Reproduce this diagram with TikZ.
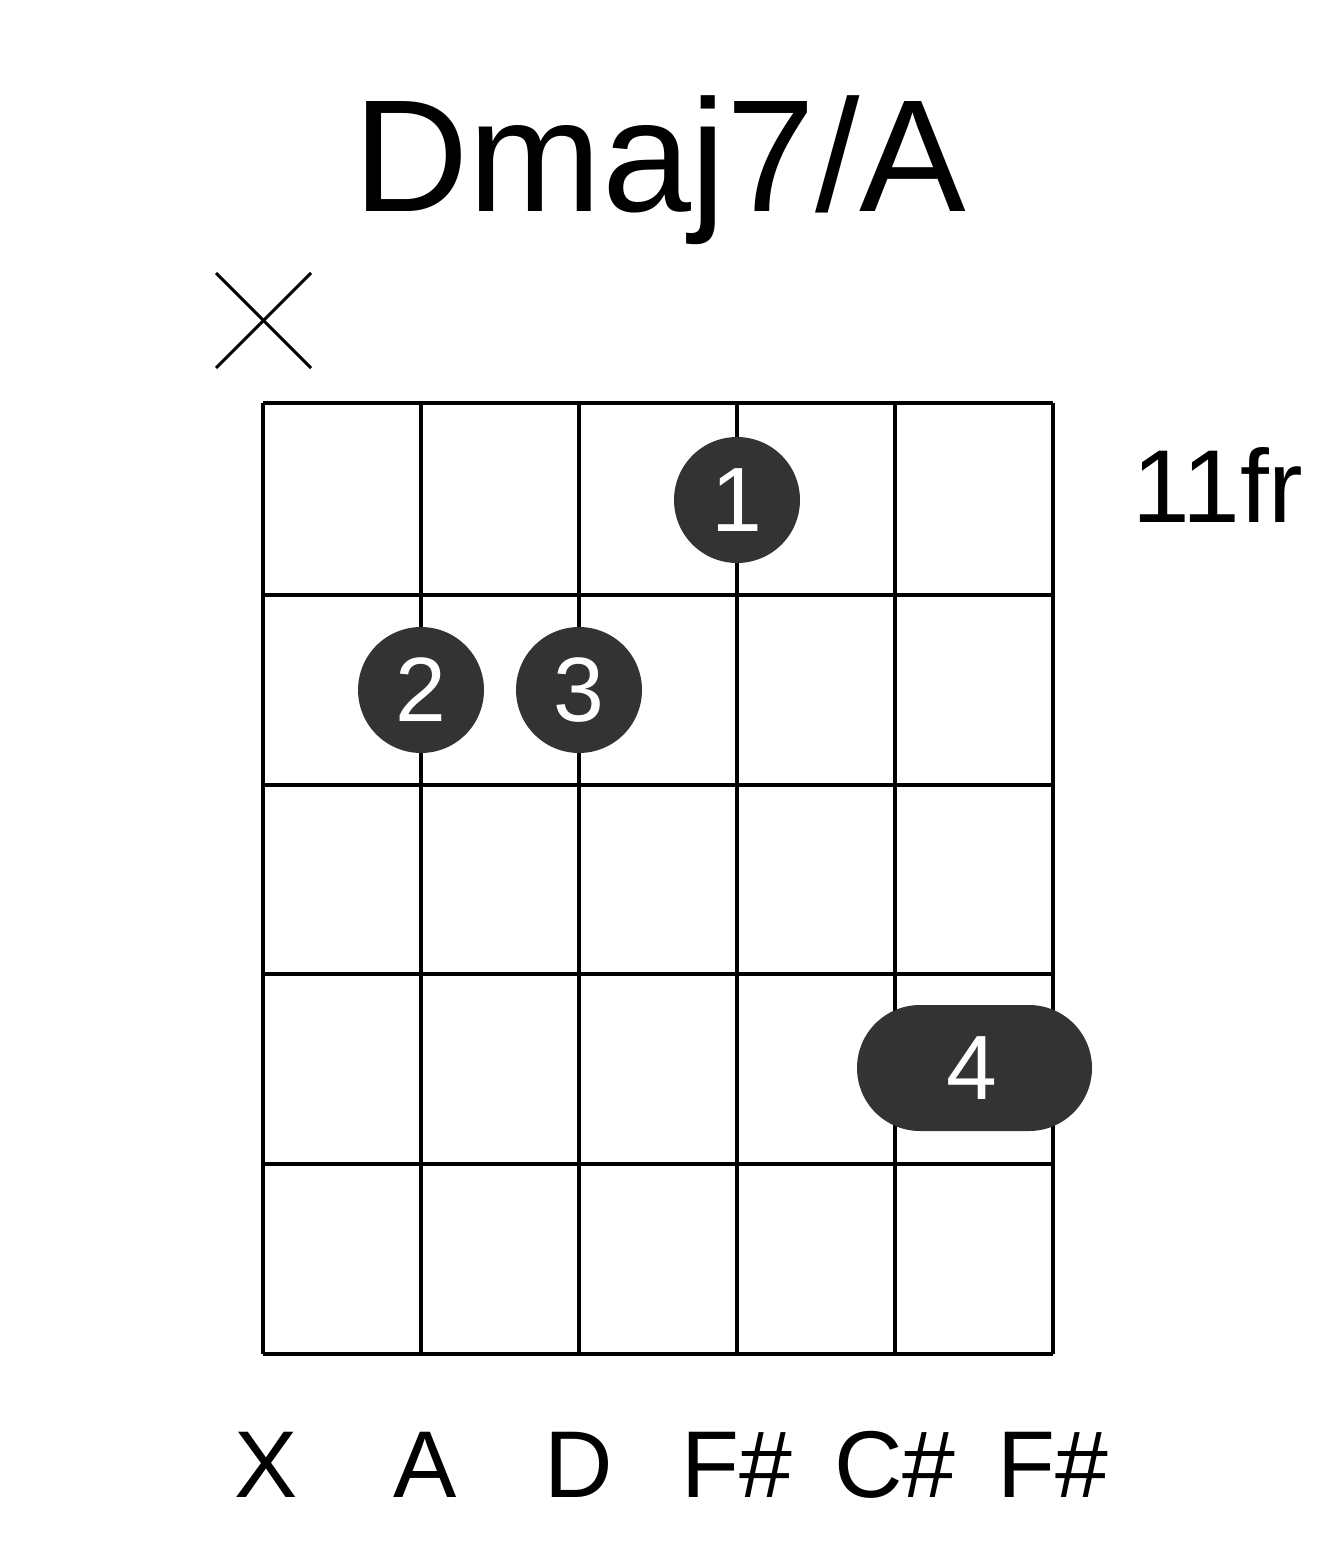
\documentclass[tikz,border=0pt]{standalone}
\usepackage{fontspec}
\setmainfont{Liberation Sans}
\begin{document}
\begin{tikzpicture}[x=0.02cm, y=-0.02cm,
  grid/.style={line width=0.08cm},
  dot/.style={circle,fill=black!80,minimum size=2.52cm,inner sep=0pt,text=white,font=\fontsize{52}{52}\selectfont},
  lbl/.style={anchor=base,font=\fontsize{54}{54}\selectfont}]
\useasboundingbox (0,0) rectangle (1317,1551);

\node[anchor=base,font=\fontsize{91}{91}\selectfont] (title) at (660,212) {Dmaj7/A};

\draw[line width=0.06cm] (216,273) -- (311,368);
\draw[line width=0.06cm] (216,368) -- (311,273);

\foreach \x in {263,421,579,737,895,1053} \draw[grid] (\x,403) -- (\x,1354);
\foreach \y in {403,595,785,974,1164,1354} \draw[grid] (263,\y) -- (1053,\y);

\node[anchor=base,font=\fontsize{59}{59}\selectfont] (fret) at (1218,522) {11fr};

\node[dot] (f1) at (737,500) {1};
\node[dot] (f2) at (421,690) {2};
\node[dot] (f3) at (579,690) {3};
\fill[black!80,rounded corners=1.26cm] (857,1005) rectangle (1092,1131);
\node[text=white,font=\fontsize{52}{52}\selectfont] (f4) at (972,1068) {4};

\node[lbl] (s1) at (266,1497) {X};
\node[lbl] (s2) at (425,1497) {A};
\node[lbl] (s3) at (579,1497) {D};
\node[lbl] (s4) at (737,1497) {F\#};
\node[lbl] (s5) at (895,1497) {C\#};
\node[lbl] (s6) at (1053,1497) {F\#};
\end{tikzpicture}
\end{document}
